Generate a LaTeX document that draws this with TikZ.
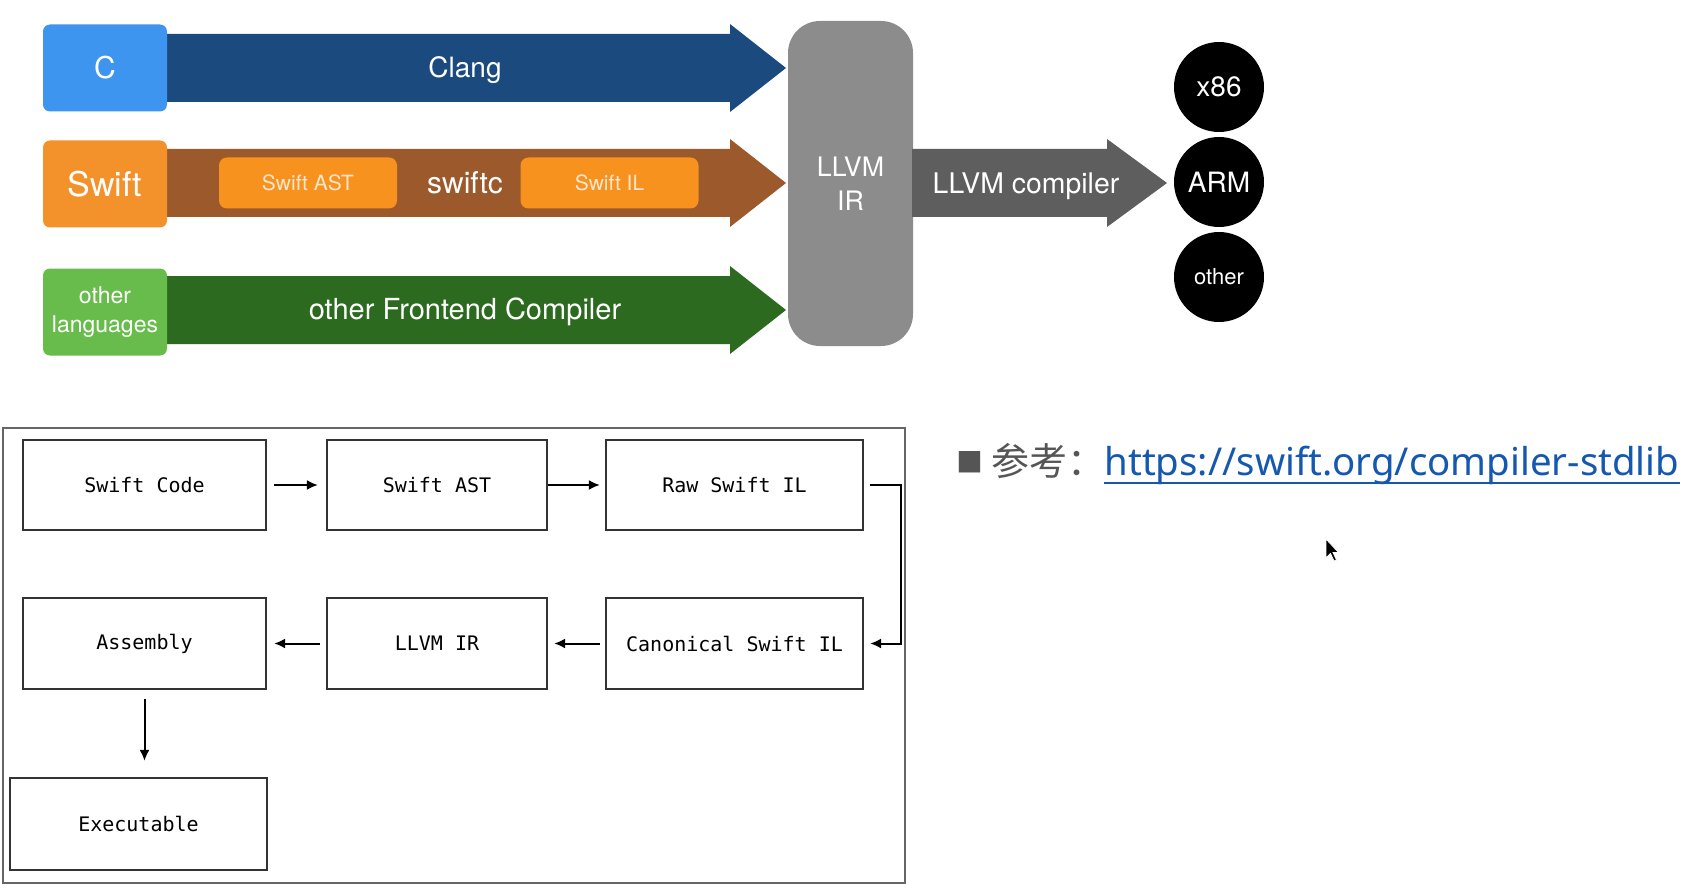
\documentclass[tikz,border=0pt]{standalone}
\usepackage{fontspec}
\setmainfont{Liberation Sans}
\newfontfamily\heros{TeX Gyre Heros}
\newfontfamily\monof{DejaVu Sans Mono}
\newfontfamily\cjk{Noto Sans CJK SC}
\newfontfamily\urlf{Noto Sans}
\newfontfamily\symf{DejaVu Sans}
\usetikzlibrary{arrows.meta}
\definecolor{cblue}{HTML}{3D95F0}
\definecolor{clangblue}{HTML}{1B4A7E}
\definecolor{swiftor}{HTML}{F3922A}
\definecolor{swiftbrown}{HTML}{9C5A2C}
\definecolor{inneror}{HTML}{F7921F}
\definecolor{innertext}{HTML}{FCE6CC}
\definecolor{ogreen}{HTML}{67BC4B}
\definecolor{dgreen}{HTML}{2C6A1F}
\definecolor{llvmgray}{HTML}{8C8C8C}
\definecolor{compgray}{HTML}{5E5E5E}
\definecolor{urlblue}{HTML}{1558B0}
\definecolor{refgray}{HTML}{555555}
\definecolor{framegray}{HTML}{666666}
\definecolor{boxgray}{HTML}{333333}
\tikzset{
  langbox/.style={rounded corners=3.5pt, minimum width=62pt, minimum height=43.5pt, inner sep=0pt, text=white, align=center},
  innerbox/.style={rounded corners=4pt, fill=inneror, text=innertext, minimum width=89pt, minimum height=25.5pt, inner sep=0pt, font=\heros\fontsize{10.5}{12}\selectfont},
  arrowlabel/.style={text=white, inner sep=0pt, text height=0.72em, text depth=0pt, yshift=-1.3pt, font=\heros\fontsize{14.5}{17}\selectfont},
  target/.style={circle, fill=black, text=white, minimum size=45pt, inner sep=0pt, font=\heros\fontsize{14}{16}\selectfont},
  codebox/.style={draw=boxgray, line width=1.1pt, fill=white, inner sep=0pt, font=\monof\fontsize{10}{12}\selectfont},
  conn/.style={draw=black, line width=1pt, -{Latex[length=5.5pt,width=5pt]}},
}
\begin{document}
\begin{tikzpicture}[x=0.5pt,y=-0.5pt]
\useasboundingbox (0,0) rectangle (1694,888);
\fill[white] (0,0) rectangle (1694,888);

% block arrows of the front ends
\fill[clangblue, shift={(0,68)}] (160,-34) -- (730,-34) -- (730,-44) -- (786,0) -- (730,44) -- (730,34) -- (160,34) -- cycle;
\fill[swiftbrown, shift={(0,183)}] (160,-34) -- (730,-34) -- (730,-44) -- (786,0) -- (730,44) -- (730,34) -- (160,34) -- cycle;
\fill[dgreen, shift={(0,310)}] (160,-34) -- (730,-34) -- (730,-44) -- (786,0) -- (730,44) -- (730,34) -- (160,34) -- cycle;

% language boxes
\node[langbox, fill=cblue, font=\heros\fontsize{15}{17}\selectfont] (c) at (105,68) {C};
\node[langbox, fill=swiftor, font=\heros\fontsize{17}{19}\selectfont] (swift) at (105,184) {Swift};
\node[langbox, fill=ogreen, font=\heros\fontsize{11.5}{14.5}\selectfont] (other) at (105,312) {other\\languages};

% labels on the arrows
\node[arrowlabel, font=\heros\fontsize{14}{16}\selectfont] (clang) at (465,68) {Clang};
\node[innerbox] (sast) at (308,183) {Swift AST};
\node[arrowlabel, font=\heros\fontsize{15}{17}\selectfont] (swiftc) at (465,184) {swiftc};
\node[innerbox] (sil) at (609.5,183) {Swift IL};
\node[arrowlabel] (front) at (465,310) {other Frontend Compiler};

% LLVM IR
\node[fill=llvmgray, rounded corners=16pt, minimum width=62.5pt, minimum height=162.5pt, inner sep=0pt, text=white, align=center, font=\heros\fontsize{13.4}{17}\selectfont] (llvm) at (850.5,183.5) {LLVM\\IR};

% LLVM compiler arrow
\fill[compgray, shift={(0,183)}] (912,-34) -- (1107,-34) -- (1107,-44) -- (1167,0) -- (1107,44) -- (1107,34) -- (912,34) -- cycle;
\node[arrowlabel, font=\heros\fontsize{14.2}{17}\selectfont] (comp) at (1026,184) {LLVM compiler};

% targets
\node[target] (x86) at (1219,87) {x86};
\node[target] (arm) at (1219,182) {ARM};
\node[target, font=\heros\fontsize{11}{13}\selectfont] (oth) at (1219,277) {other};

% lower diagram
\draw[framegray, line width=1pt] (3,428) rectangle (905,883);
\node[codebox, minimum width=121.5pt, minimum height=45pt] (scode) at (144.5,485) {Swift Code};
\node[codebox, minimum width=110pt, minimum height=45pt] (ast) at (437,485) {Swift AST};
\node[codebox, minimum width=128.5pt, minimum height=45pt] (raw) at (734.5,485) {Raw Swift IL};
\node[codebox, minimum width=121.5pt, minimum height=45.5pt] (asm) at (144.5,643.5) {Assembly};
\node[codebox, minimum width=110pt, minimum height=45.5pt] (ir) at (437,643.5) {LLVM IR};
\node[codebox, minimum width=128.5pt, minimum height=45.5pt] (canon) at (734.5,643.5) {Canonical Swift IL};
\node[codebox, minimum width=128.5pt, minimum height=46pt] (exe) at (138.5,824) {Executable};

\draw[conn] ([xshift=3.5pt]scode.east) -- ([xshift=-4pt]ast.west);
\draw[conn] (ast.east) -- ([xshift=-2.5pt]raw.west);
\draw[conn] ([xshift=3pt]raw.east) -- ++(15.5pt,0) |- ([xshift=3pt]canon.east);
\draw[conn] ([xshift=-2.5pt]canon.west) -- ([xshift=3pt]ir.east);
\draw[conn] ([xshift=-3pt]ir.west) -- ([xshift=3.5pt]asm.east);
\draw[conn] ([yshift=-4.5pt]asm.south) -- ([yshift=8pt]asm.south |- exe.north);

% reference line
\node[anchor=base west, inner sep=0pt, text=refgray, font=\symf\fontsize{14}{16}\selectfont] (sq) at (956,469) {■};
\node[anchor=base west, inner sep=0pt, text=refgray, font=\cjk\fontsize{19}{22}\selectfont] (cank) at (991,475) {参考：};
\node[anchor=base west, inner sep=0pt, text=urlblue, font=\urlf\fontsize{19.2}{22}\selectfont] (url) at (1104,475) {https://swift.org/compiler-stdlib};
\draw[urlblue, line width=1.1pt] ([yshift=-4pt]url.base west) -- ([yshift=-4pt]url.base east);

% mouse pointer
\fill[black, draw=white, line width=0.4pt, shift={(1326,539)}] (0,0) -- (0,19) -- (4.5,14.5) -- (8,22) -- (10.5,21) -- (7,13.5) -- (12.5,13.5) -- cycle;
\end{tikzpicture}
\end{document}
